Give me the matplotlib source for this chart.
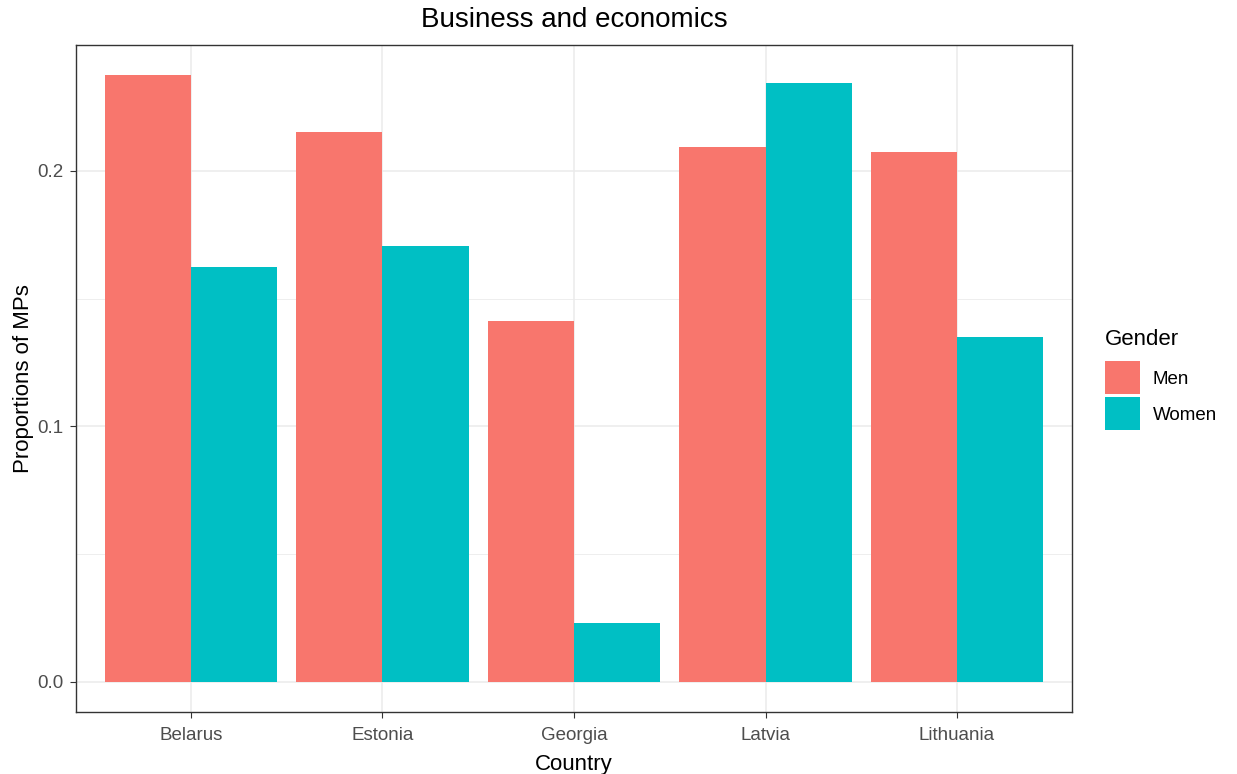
import numpy as np
import matplotlib.pyplot as plt
from matplotlib.patches import Patch

plt.rcParams['font.family'] = ['Liberation Sans', 'DejaVu Sans']

countries = ["Belarus", "Estonia", "Georgia", "Latvia", "Lithuania"]
men = [0.2374, 0.2152, 0.1411, 0.2094, 0.2074]
women = [0.1622, 0.1704, 0.0230, 0.2343, 0.1349]
genders = ["Men", "Women"]
colors = ["#F8766D", "#00BFC4"]

fig = plt.figure(figsize=(12.37, 7.74), dpi=100)
ax = fig.add_axes([0.0614, 0.0801, 0.8052, 0.8618])

x = np.arange(1, len(countries) + 1)
w = 0.45
ax.bar(x - w / 2, men, width=w, color=colors[0], zorder=3)
ax.bar(x + w / 2, women, width=w, color=colors[1], zorder=3)

ymax = max(max(men), max(women))
ax.set_xlim(0.4, 5.6)
ax.set_ylim(-0.05 * ymax, 1.05 * ymax)

ax.set_yticks([0.0, 0.1, 0.2])
ax.set_yticklabels(["0.0", "0.1", "0.2"])
ax.set_yticks([0.05, 0.15], minor=True)
ax.set_xticks(x)
ax.set_xticklabels(countries)

ax.grid(True, which='major', color='#EBEBEB', linewidth=1.1, zorder=0)
ax.grid(True, which='minor', axis='y', color='#EBEBEB', linewidth=0.6, zorder=0)
ax.set_axisbelow(True)
for s in ax.spines.values():
    s.set_color('#333333')
    s.set_linewidth(1.0)
ax.tick_params(which='major', length=4, color='#333333', labelsize=13.5,
               labelcolor='#4D4D4D', pad=5)
ax.tick_params(axis='x', pad=7)
ax.tick_params(which='minor', length=0)

ax.set_xlabel("Country", fontsize=16, labelpad=7)
ax.set_ylabel("Proportions of MPs", fontsize=16, labelpad=2)
ax.set_title("Business and economics", fontsize=20, pad=13)

handles = [Patch(facecolor=c, edgecolor='none') for c in colors]
leg = fig.legend(handles, genders, title="Gender", loc='upper left',
                 bbox_to_anchor=(1105 / 1237, 1 - 329 / 774), frameon=False,
                 fontsize=13.5, title_fontsize=16, borderpad=0, borderaxespad=0,
                 handlelength=1.85, handleheight=2.35,
                 handletextpad=0.7, labelspacing=0.15)
leg._legend_box.align = "left"
leg._legend_box.sep = 8

fig.savefig("out.png", dpi=100)
